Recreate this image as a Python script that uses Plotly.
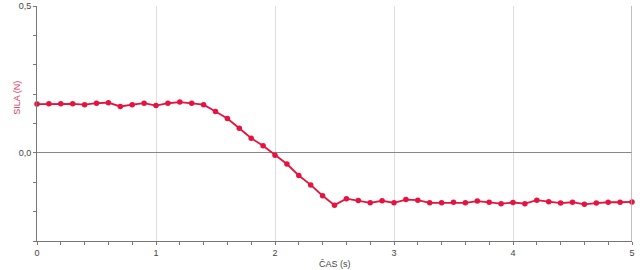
import plotly.graph_objects as go

time_s = [round(i * 0.1, 1) for i in range(51)]
force_n = [0.166, 0.167, 0.167, 0.167, 0.164, 0.169, 0.171, 0.158, 0.164, 0.169,
           0.161, 0.169, 0.173, 0.169, 0.164, 0.141, 0.117, 0.084, 0.050, 0.024,
           -0.008, -0.038, -0.077, -0.109, -0.146, -0.178, -0.156, -0.162, -0.170, -0.163,
           -0.170, -0.159, -0.161, -0.170, -0.170, -0.168, -0.170, -0.164, -0.168, -0.173,
           -0.169, -0.173, -0.161, -0.166, -0.171, -0.168, -0.175, -0.171, -0.168, -0.168,
           -0.167]

y_tickvals = [0.0, 0.5]
y_ticktext = ["0,0", "0,5"]
x_tickvals = [0, 1, 2, 3, 4, 5]
x_ticktext = ["0", "1", "2", "3", "4", "5"]

line_color = "#e8123e"
font = "Liberation Sans, Arial, sans-serif"

fig = go.Figure()
fig.add_trace(go.Scatter(
    x=time_s, y=force_n, mode="lines+markers",
    line=dict(color=line_color, width=1.8),
    marker=dict(color=line_color, size=5.5),
    showlegend=False, hoverinfo="skip", cliponaxis=False,
))

fig.update_layout(
    width=640, height=270,
    margin=dict(l=37, r=8, t=6, b=29, autoexpand=False),
    paper_bgcolor="white", plot_bgcolor="white",
    font=dict(family=font, size=9, color="#444"),
    xaxis=dict(
        range=[0, 5], tickvals=x_tickvals, ticktext=x_ticktext,
        showgrid=True, gridcolor="#dddddd", gridwidth=1,
        showline=True, linecolor="#777", linewidth=1,
        ticks="outside", ticklen=3, tickcolor="#777",
        minor=dict(dtick=0.2, ticks="outside", ticklen=3, tickcolor="#777", showgrid=False),
        zeroline=False, automargin=False,
    ),
    yaxis=dict(
        range=[-0.3, 0.5], tickvals=y_tickvals, ticktext=y_ticktext,
        showgrid=True, gridcolor="#dddddd", gridwidth=1,
        showline=True, linecolor="#777", linewidth=1,
        ticks="outside", ticklen=3, tickcolor="#777",
        minor=dict(dtick=0.1, ticks="outside", ticklen=3, tickcolor="#777", showgrid=False),
        zeroline=True, zerolinecolor="#888", zerolinewidth=1.2, automargin=False,
    ),
    annotations=[
        dict(text="SILA (N)", textangle=-90, xref="paper", yref="paper",
             x=-0.035, y=0.61, xanchor="center", yanchor="middle", showarrow=False,
             font=dict(size=9, color="#d83a60", family=font)),
        dict(text="ČAS (s)", xref="paper", yref="paper",
             x=0.5, y=-0.098, xanchor="center", yanchor="middle", showarrow=False,
             font=dict(size=9, color="#444", family=font)),
    ],
    shapes=[dict(
        type="line", xref="x", yref="paper",
        x0=max(time_s), x1=max(time_s), y0=0, y1=1,
        line=dict(color="#aaaaaa", width=1.5),
    )],
)

fig.write_html("out.html")
